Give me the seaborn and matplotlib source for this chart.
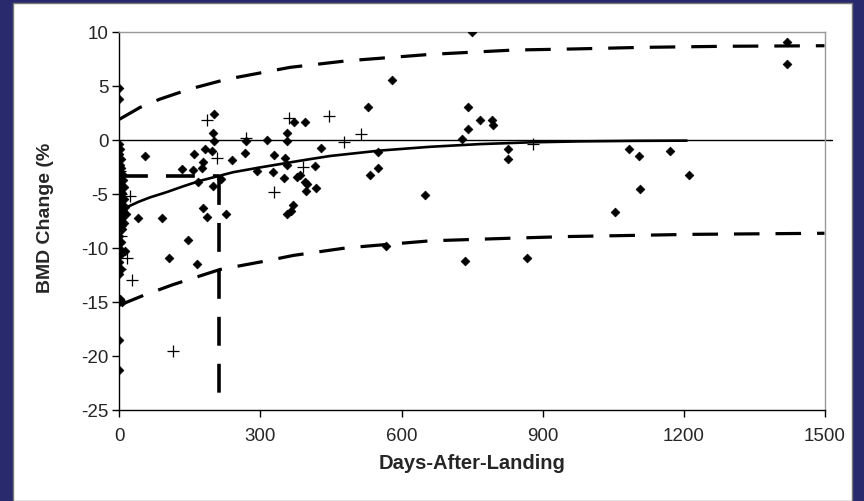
import numpy as np
import pandas as pd
import matplotlib
matplotlib.use("Agg")
import matplotlib.pyplot as plt
from matplotlib.patches import Rectangle
import seaborn as sns

# filled diamonds: individual measurements
diamond_days = [0, 0, 0, 2, 0, 3, 1, 4, 0, 6, 2, 8, 0, 4, 10, 1, 6, 3, 9, 0, 5, 12, 2, 8, 4, 14, 0, 6,
                3, 10, 1, 5, 0, 3, 1, 12, 2, 0, 4, 0, 2, 6, 0, 0,
                54, 40, 90, 146, 106, 164, 132, 157, 175, 178, 158, 182, 196, 202, 200, 201, 168, 200,
                217, 177, 186, 227, 240, 268, 270, 292, 314, 327, 329, 349, 352, 356, 356, 356, 371,
                377, 370, 356, 395, 383, 395, 398, 397, 418, 416, 428, 365, 529, 579, 549, 549, 533,
                567, 651, 749, 741, 741, 728, 767, 793, 795, 826, 826, 735, 866, 1085, 1106, 1171,
                1212, 1108, 1054, 1420, 1420]
diamond_bmd = [4.8, 3.8, -0.4, -0.9, -1.3, -1.8, -2.3, -2.6, -3.0, -3.2, -3.5, -3.7, -3.9, -4.2, -4.4,
               -4.7, -4.9, -5.2, -5.5, -5.8, -6.0, -6.2, -6.4, -6.6, -6.8, -6.9, -7.0, -7.2, -7.5, -7.7,
               -8.0, -8.3, -8.9, -9.5, -10.1, -10.3, -10.7, -11.3, -12.0, -12.4, -14.7, -15.0, -18.5, -21.3,
               -1.5, -7.2, -7.2, -9.3, -10.9, -11.5, -2.7, -2.8, -2.6, -2.1, -1.3, -0.9, -1.0, 2.4, 0.6,
               -0.1, -3.9, -4.3, -3.6, -6.3, -7.1, -6.9, -1.9, -1.2, -0.1, -2.9, 0.0, -3.0, -1.4, -3.5,
               -1.7, -2.3, 0.6, -0.1, 1.6, -3.4, -6.0, -6.9, 1.6, -3.3, -3.9, -4.1, -4.7, -4.5, -2.4,
               -0.8, -6.6, 3.0, 5.5, -1.1, -2.6, -3.3, -9.8, -5.1, 10.0, 3.0, 1.0, 0.1, 1.8, 1.8, 1.4,
               -0.9, -1.8, -11.2, -10.9, -0.9, -1.5, -1.0, -3.3, -4.6, -6.7, 9.0, 7.0]

# crosses: second group of measurements
cross_days = [186, 207, 270, 361, 329, 446, 513, 478, 390, 880, 22, 26, 17, 114,
              2, 4, 1, 3, 3, 2]
cross_bmd = [1.8, -1.7, 0.2, 2.0, -4.8, 2.2, 0.5, -0.2, -2.5, -0.4, -5.2, -13.0, -10.9, -19.5,
             -2.9, -5.0, -8.0, -8.9, -10.3, -12.0]

# fitted recovery curve and its prediction bounds
fit_days = [20, 40, 65, 100, 136, 171, 211, 242, 299, 384, 448, 554, 661, 767, 873, 980, 1100, 1207]
fit_bmd = [-6.15, -5.75, -5.33, -4.85, -4.3, -3.8, -3.35, -3.0, -2.56, -1.94, -1.5, -1.0, -0.65,
           -0.4, -0.24, -0.15, -0.1, -0.08]
upper_days = [0, 44, 86, 150, 228, 363, 483, 661, 838, 965, 1114, 1292, 1500]
upper_bmd = [1.9, 3.0, 3.76, 4.7, 5.6, 6.7, 7.3, 7.9, 8.3, 8.4, 8.55, 8.65, 8.7]
lower_days = [0, 51, 114, 214, 313, 370, 483, 661, 838, 958, 1220, 1500]
lower_bmd = [-15.3, -14.4, -13.4, -12.0, -11.2, -10.7, -10.0, -9.35, -9.1, -8.95, -8.75, -8.65]

# 50% recovery marker
half_day = 211
half_bmd = -3.33

x_ticks = [0, 300, 600, 900, 1200, 1500]
y_ticks = [-25, -20, -15, -10, -5, 0, 5, 10]

sns.set_style("white")
plt.rcParams['font.family'] = ['Liberation Sans', 'DejaVu Sans']
plt.rcParams['axes.unicode_minus'] = False

fig = plt.figure(figsize=(8.64, 5.02), dpi=100)
fig.patch.set_facecolor('#29296e')
fig.patches.append(Rectangle((13 / 864, 0), (852 - 13) / 864, 1 - 4 / 502,
                             transform=fig.transFigure, facecolor='white',
                             edgecolor='#777777', linewidth=1, zorder=-10))
ax = fig.add_axes([0.1383, 0.1813, 0.8160, 0.7536])
ax.set_zorder(1)
ax.set_facecolor('white')

dash = (0, (8, 5))
sns.lineplot(x=upper_days, y=upper_bmd, color='black', lw=2.3, linestyle=dash, ax=ax,
             estimator=None, sort=False)
sns.lineplot(x=lower_days, y=lower_bmd, color='black', lw=2.3, linestyle=dash, ax=ax,
             estimator=None, sort=False)
sns.lineplot(x=[0, half_day], y=[half_bmd, half_bmd], color='black', lw=2.6, linestyle=dash,
             ax=ax, estimator=None, sort=False)
sns.lineplot(x=[half_day, half_day], y=[half_bmd, -25], color='black', lw=2.6, linestyle=dash,
             ax=ax, estimator=None, sort=False)
sns.lineplot(x=fit_days, y=fit_bmd, color='black', lw=1.9, ax=ax, estimator=None, sort=False)

ax.axhline(0, xmin=0, xmax=1.01, color='black', lw=1, clip_on=False, zorder=1)

sns.scatterplot(x=diamond_days, y=diamond_bmd, marker='D', s=20, color='black',
                edgecolor='black', linewidth=0.5, ax=ax, zorder=3)
sns.scatterplot(x=cross_days, y=cross_bmd, marker='+', s=65, color='black',
                linewidth=0.9, ax=ax, zorder=3)

ax.set_xlim(0, 1500)
ax.set_ylim(-25, 10)
ax.set_xticks(x_ticks)
ax.set_yticks(y_ticks)
ax.tick_params(axis='both', direction='out', length=5, width=1, color='black',
               labelsize=13.5, pad=3)
ax.tick_params(axis='x', pad=7)
ax.tick_params(left=True, bottom=True)
for s in ['left', 'bottom']:
    ax.spines[s].set_color('black')
    ax.spines[s].set_linewidth(1)
for s in ['top', 'right']:
    ax.spines[s].set_color('#999999')
    ax.spines[s].set_linewidth(1)

ax.set_xlabel('Days-After-Landing', fontsize=14.5, fontweight='bold')
ax.set_ylabel('BMD Change (%', fontsize=14, fontweight='bold')
ax.xaxis.set_label_coords(0.5, -0.115)
ax.yaxis.set_label_coords(-0.093, 0.51)

fig.savefig('out.png', dpi=100, facecolor=fig.get_facecolor())
